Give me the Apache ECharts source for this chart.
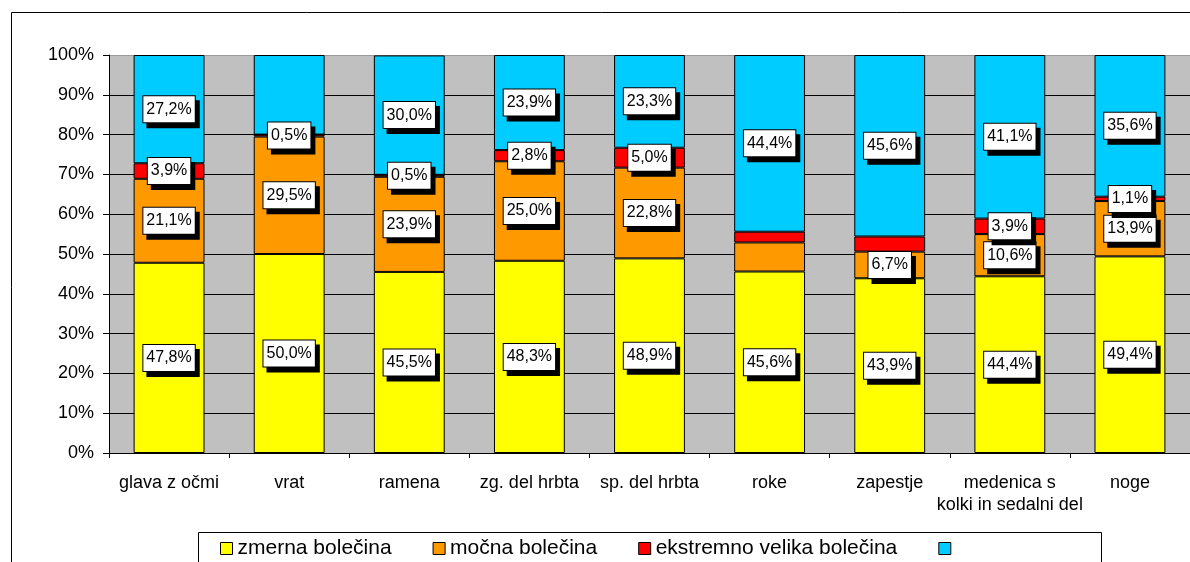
<!DOCTYPE html>
<html>
<head>
<meta charset="utf-8">
<script src="https://cdn.jsdelivr.net/npm/echarts@6/dist/echarts.min.js"></script>
<style>
  html, body { margin: 0; padding: 0; background: #fff; }
  #chart { width: 1190px; height: 562px; }
</style>
</head>
<body>
<div id="chart"></div>
<script>
// Body regions
const categories = [
  'glava z očmi', 'vrat', 'ramena', 'zg. del hrbta', 'sp. del hrbta',
  'roke', 'zapestje', 'medenica s\nkolki in sedalni del', 'noge'
];

// Share of answers per pain level (%)
const zmerna    = [47.8, 50.0, 45.5, 48.3, 48.9, 45.6, 43.9, 44.4, 49.4];
const mocna     = [21.1, 29.5, 23.9, 25.0, 22.8, 7.3, 6.7, 10.6, 13.9];
const ekstremna = [3.9, 0.5, 0.5, 2.8, 5.0, 2.7, 3.8, 3.9, 1.1];
const ostalo    = [27.2, 20.0, 30.0, 23.9, 23.3, 44.4, 45.6, 41.1, 35.6];

const seriesNames = ['zmerna bolečina', 'močna bolečina', 'ekstremno velika bolečina', ' '];
const seriesColors = ['#FFFF00', '#FF9900', '#FF0000', '#00CCFF'];

// Segments whose value label is not printed: [series, category]
const hiddenLabels = [[3, 1], [1, 5], [2, 5], [2, 6]];

const yTicks = [0, 10, 20, 30, 40, 50, 60, 70, 80, 90, 100];

const FONT = "'Liberation Sans', Arial, sans-serif";

const fmt = v => v.toFixed(1).replace('.', ',') + '%';

const allValues = [zmerna, mocna, ekstremna, ostalo];

const series = allValues.map((vals, si) => ({
  name: seriesNames[si],
  type: 'bar',
  stack: 'total',
  barCategoryGap: '41%',
  itemStyle: { color: seriesColors[si], borderColor: '#000', borderWidth: 1 },
  label: {
    show: true,
    position: 'inside',
    formatter: p => fmt(p.value),
    fontFamily: FONT,
    fontSize: 16,
    color: '#000',
    backgroundColor: '#fff',
    borderColor: '#000',
    borderWidth: 1,
    padding: [6, 3, 4, 3],
    shadowColor: '#000',
    shadowBlur: 0,
    shadowOffsetX: 4,
    shadowOffsetY: 5
  },
  data: vals.map((v, ci) => {
    const hide = hiddenLabels.some(h => h[0] === si && h[1] === ci);
    return hide ? { value: v, label: { show: false } } : v;
  })
}));

// The 100% line is lighter than the inner gridlines
const splitColors = yTicks.map((t, i) => i === yTicks.length - 1 ? '#9a9a9a' : '#000');

const chart = echarts.init(document.getElementById('chart'), null, { renderer: 'canvas' });

chart.setOption({
  animation: false,
  backgroundColor: '#fff',
  textStyle: { fontFamily: FONT },
  graphic: [
    {
      type: 'rect', z: -10, silent: true,
      shape: { x: 11.5, y: 12.5, width: 1250, height: 640 },
      style: { fill: '#fff', stroke: '#000', lineWidth: 1 }
    },
    {
      type: 'rect', z: -5, silent: true,
      shape: { x: 198.5, y: 532.5, width: 903, height: 60 },
      style: { fill: '#fff', stroke: '#000', lineWidth: 1 }
    }
  ],
  grid: {
    left: 109, top: 55, right: -2, bottom: 109,
    show: true, backgroundColor: '#C0C0C0', borderWidth: 0
  },
  legend: {
    data: seriesNames,
    left: 220,
    top: 538,
    padding: 0,
    itemGap: 41,
    itemWidth: 12,
    itemHeight: 12,
    icon: 'rect',
    itemStyle: { borderColor: '#000', borderWidth: 1 },
    textStyle: { fontFamily: FONT, fontSize: 21, color: '#000', padding: [0, 0, 0, 0] }
  },
  xAxis: {
    type: 'category',
    data: categories,
    axisLine: { lineStyle: { color: '#000', width: 1 } },
    axisTick: { show: true, length: 5, lineStyle: { color: '#000' } },
    axisLabel: {
      fontFamily: FONT, fontSize: 18, color: '#000', margin: 19,
      lineHeight: 22, interval: 0
    },
    splitLine: { show: false }
  },
  yAxis: {
    type: 'value',
    min: 0,
    max: 100,
    interval: 10,
    axisLine: { show: true, lineStyle: { color: '#000', width: 1 } },
    axisTick: { show: true, length: 6, lineStyle: { color: '#000' } },
    axisLabel: {
      fontFamily: FONT, fontSize: 18, color: '#000', margin: 15,
      formatter: v => v + '%'
    },
    splitLine: { show: true, lineStyle: { color: splitColors, width: 1 } }
  },
  series: series
});
</script>
</body>
</html>
